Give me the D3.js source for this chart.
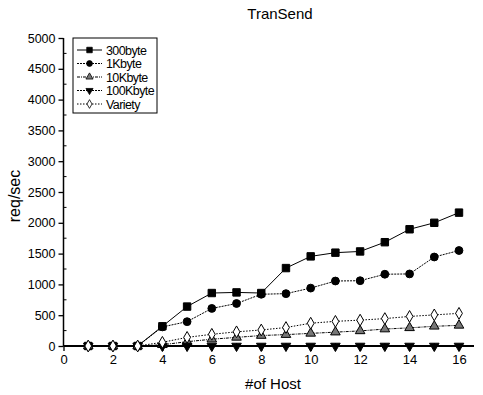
<!DOCTYPE html>
<html>
<head>
<meta charset="utf-8">
<script src="https://cdn.jsdelivr.net/npm/d3@7"></script>
<style>
  body { margin: 0; background: #fff; }
  svg { display: block; font-family: "Liberation Sans", Arial, sans-serif; }
</style>
</head>
<body>
<svg id="main-svg" width="483" height="395"></svg>
<script>
// data
const hosts = [1, 2, 3, 4, 5, 6, 7, 8, 9, 10, 11, 12, 13, 14, 15, 16];
const seriesNames = ["300byte", "1Kbyte", "10Kbyte", "100Kbyte", "Variety"];
const s300byte = [0, 0, 0, 320, 640, 860, 870, 860, 1265, 1455, 1515, 1535, 1685, 1895, 2000, 2165];
const s1Kbyte = [0, 0, 0, 310, 395, 610, 690, 840, 850, 940, 1055, 1060, 1165, 1170, 1445, 1550];
const s10Kbyte = [0, 0, 0, 20, 70, 110, 140, 170, 185, 205, 225, 245, 275, 295, 320, 335];
const s100Kbyte = [0, 0, 0, 0, 0, 0, 0, 0, 0, 0, 0, 0, 0, 0, 0, 0];
const sVariety = [0, 0, 0, 60, 140, 190, 230, 260, 300, 370, 400, 420, 445, 480, 505, 530];
const xTicks = [0, 2, 4, 6, 8, 10, 12, 14, 16];
const yTicks = [0, 500, 1000, 1500, 2000, 2500, 3000, 3500, 4000, 4500, 5000];

const seriesValues = [s300byte, s1Kbyte, s10Kbyte, s100Kbyte, sVariety];

const svg = d3.select("#main-svg");

// plot area
const x = d3.scaleLinear().domain([0, 16]).range([63.5, 459]);
const y = d3.scaleLinear().domain([0, 5000]).range([346, 38]);

// title
svg.append("text")
    .attr("x", 280)
    .attr("y", 19)
    .attr("text-anchor", "middle")
    .attr("font-size", "15px")
    .text("TranSend");

// axes
const xAxis = svg.append("g")
    .attr("transform", `translate(0,${y(0)})`)
    .call(d3.axisBottom(x).tickValues(xTicks).tickFormat(d3.format("d")).tickSize(5).tickPadding(4));
xAxis.select(".domain").remove();
xAxis.selectAll("text").attr("font-size", "13px").attr("font-family", "Liberation Sans, Arial, sans-serif");
xAxis.selectAll("line").attr("stroke-width", 1.3);

// minor x ticks (inward)
svg.append("g").selectAll("line")
    .data(d3.range(1, 16, 2))
    .enter().append("line")
    .attr("x1", d => x(d)).attr("x2", d => x(d))
    .attr("y1", y(0)).attr("y2", y(0) - 3)
    .attr("stroke", "#000");

const yAxis = svg.append("g")
    .attr("transform", `translate(${x(0)},0)`)
    .call(d3.axisLeft(y).tickValues(yTicks).tickFormat(d3.format("d")).tickSize(5).tickPadding(3));
yAxis.select(".domain").remove();
yAxis.selectAll("text").attr("font-size", "12.5px").attr("font-family", "Liberation Sans, Arial, sans-serif");
yAxis.selectAll("line").attr("stroke-width", 1.3);

// minor y ticks (inward)
svg.append("g").selectAll("line")
    .data(d3.range(250, 5000, 500))
    .enter().append("line")
    .attr("x1", x(0)).attr("x2", x(0) + 3)
    .attr("y1", d => y(d)).attr("y2", d => y(d))
    .attr("stroke", "#000");

// axis lines
svg.append("line")
    .attr("x1", x(0)).attr("x2", x(16) + 15)
    .attr("y1", y(0)).attr("y2", y(0))
    .attr("stroke", "#000").attr("stroke-width", 2);
svg.append("line")
    .attr("x1", x(0)).attr("x2", x(0))
    .attr("y1", y(0)).attr("y2", y(5000))
    .attr("stroke", "#000").attr("stroke-width", 1.5);

// axis titles
svg.append("text")
    .attr("transform", `translate(20,${(y(0) + y(5000)) / 2 + 4}) rotate(-90)`)
    .attr("text-anchor", "middle")
    .attr("font-size", "16px")
    .text("req/sec");

svg.append("text")
    .attr("x", 273)
    .attr("y", 389)
    .attr("text-anchor", "middle")
    .attr("font-size", "15px")
    .text("#of Host");

// styles for each series
const dashes = [null, "2,1", "3,1,1,1", "2,1", "1.5,1.5"];
const symbols = [d3.symbolSquare, d3.symbolCircle, d3.symbolTriangle, d3.symbolTriangle, d3.symbolDiamond];
const sizes = [55, 48, 40, 40, 40];
const fills = ["#000", "#000", "#777", "#000", "#fff"];
const rotations = [0, 0, 0, 180, 0];

const line = d3.line()
    .x((d, i) => x(hosts[i]))
    .y(d => y(d));

// draw lines from back to front
seriesValues.forEach((vals, k) => {
    svg.append("path")
        .datum(vals)
        .attr("d", line)
        .attr("fill", "none")
        .attr("stroke", "#000")
        .attr("stroke-width", 1)
        .attr("stroke-dasharray", dashes[k]);
});

seriesValues.forEach((vals, k) => {
    svg.append("g").selectAll("path")
        .data(vals)
        .enter().append("path")
        .attr("transform", (d, i) => `translate(${x(hosts[i])},${y(d)}) rotate(${rotations[k]})`)
        .attr("d", d3.symbol().type(symbols[k]).size(sizes[k]))
        .attr("fill", fills[k])
        .attr("stroke", "#000")
        .attr("stroke-width", 1);
});

// legend
const legend = svg.append("g").attr("transform", "translate(73,38)");
legend.append("rect")
    .attr("width", 84)
    .attr("height", 75)
    .attr("fill", "#fff")
    .attr("stroke", "#000")
    .attr("stroke-width", 1);

const items = legend.selectAll("g.item")
    .data(seriesNames)
    .enter().append("g")
    .attr("class", "item")
    .attr("transform", (d, i) => `translate(0,${12 + i * 13.5})`);

items.append("line")
    .attr("x1", 4).attr("x2", 29)
    .attr("stroke", "#000")
    .attr("stroke-dasharray", (d, i) => dashes[i]);

items.append("path")
    .attr("transform", (d, i) => `translate(16.5,0) rotate(${rotations[i]})`)
    .attr("d", (d, i) => d3.symbol().type(symbols[i]).size(sizes[i] * 0.55)())
    .attr("fill", (d, i) => fills[i])
    .attr("stroke", "#000")
    .attr("stroke-width", 0.8);

items.append("text")
    .attr("x", 33)
    .attr("y", 4.5)
    .attr("font-size", "12.5px")
    .attr("letter-spacing", "-0.6")
    .text(d => d);
</script>
</body>
</html>
